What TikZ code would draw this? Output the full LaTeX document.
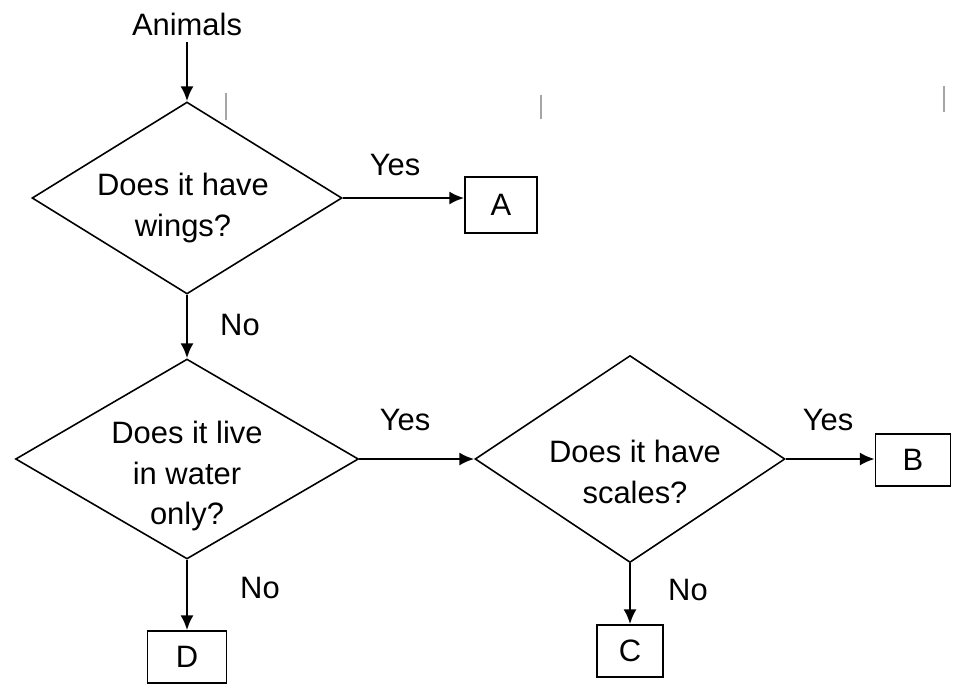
\documentclass[tikz,border=0pt]{standalone}
\usepackage{fontspec}
\setmainfont{Liberation Sans}
\usetikzlibrary{shapes.geometric}
\usetikzlibrary{arrows.meta}

\begin{document}
\begin{tikzpicture}[x=0.02cm, y=-0.02cm,
        every node/.style={font=\fontsize{17.6}{23.2}\selectfont},
        decision/.style={draw, diamond, inner sep=0pt, line width=0.9pt},
        answer/.style={draw, rectangle, inner sep=0pt, line width=0.9pt, minimum height=1.04cm},
        flow/.style={-{Latex[length=8.5pt,width=7.5pt]}, line width=1.4pt}]
            \useasboundingbox (0,0) rectangle (955,687);

            % start
            \node (animals) at (187,24) {Animals};

            % questions
            \node[decision, minimum width=6.2cm, minimum height=3.84cm] (wings) at (187,198) {};
            \node[align=center] (wingsq) at (183,208) {Does it have\\wings?};
            \node[decision, minimum width=6.86cm, minimum height=4cm] (water) at (187,459) {};
            \node[align=center] (waterq) at (187,476) {Does it live\\in water\\only?};
            \node[decision, minimum width=6.2cm, minimum height=4.14cm] (scales) at (630,459) {};
            \node[align=center] (scalesq) at (635,472) {Does it have\\scales?};

            % answers
            \node[answer, minimum width=1.44cm, minimum height=1.12cm] (A) at (501,205) {A};
            \node[answer, minimum width=1.5cm] (B) at (913,460) {B};
            \node[answer, minimum width=1.32cm] (C) at (630,651) {C};
            \node[answer, minimum width=1.58cm] (D) at (187,657) {D};

            % connectors
            \draw[flow] (animals) -- (wings.north);
            \draw[flow] (wings.east) -- (wings.east -| A.west);
            \draw[flow] (wings.south) -- (water.north);
            \draw[flow] (water.east) -- (scales.west);
            \draw[flow] (scales.east) -- (scales.east -| B.west);
            \draw[flow] (scales.south) -- (C.north);
            \draw[flow] (water.south) -- (D.north);

            % yes / no labels
            \node (yes1) at (395,165) {Yes};
            \node (no1) at (240,325) {No};
            \node (yes2) at (405,420) {Yes};
            \node (no2) at (260,588) {No};
            \node (yes3) at (828,420) {Yes};
            \node (no3) at (688,590) {No};

            % scan marks
            \foreach \x/\ya/\yb in {226/93/120, 541/95/119, 944/86/112}
                \draw[gray!70, line width=0.8pt] (\x,\ya) -- (\x,\yb);
        \end{tikzpicture}
\end{document}
